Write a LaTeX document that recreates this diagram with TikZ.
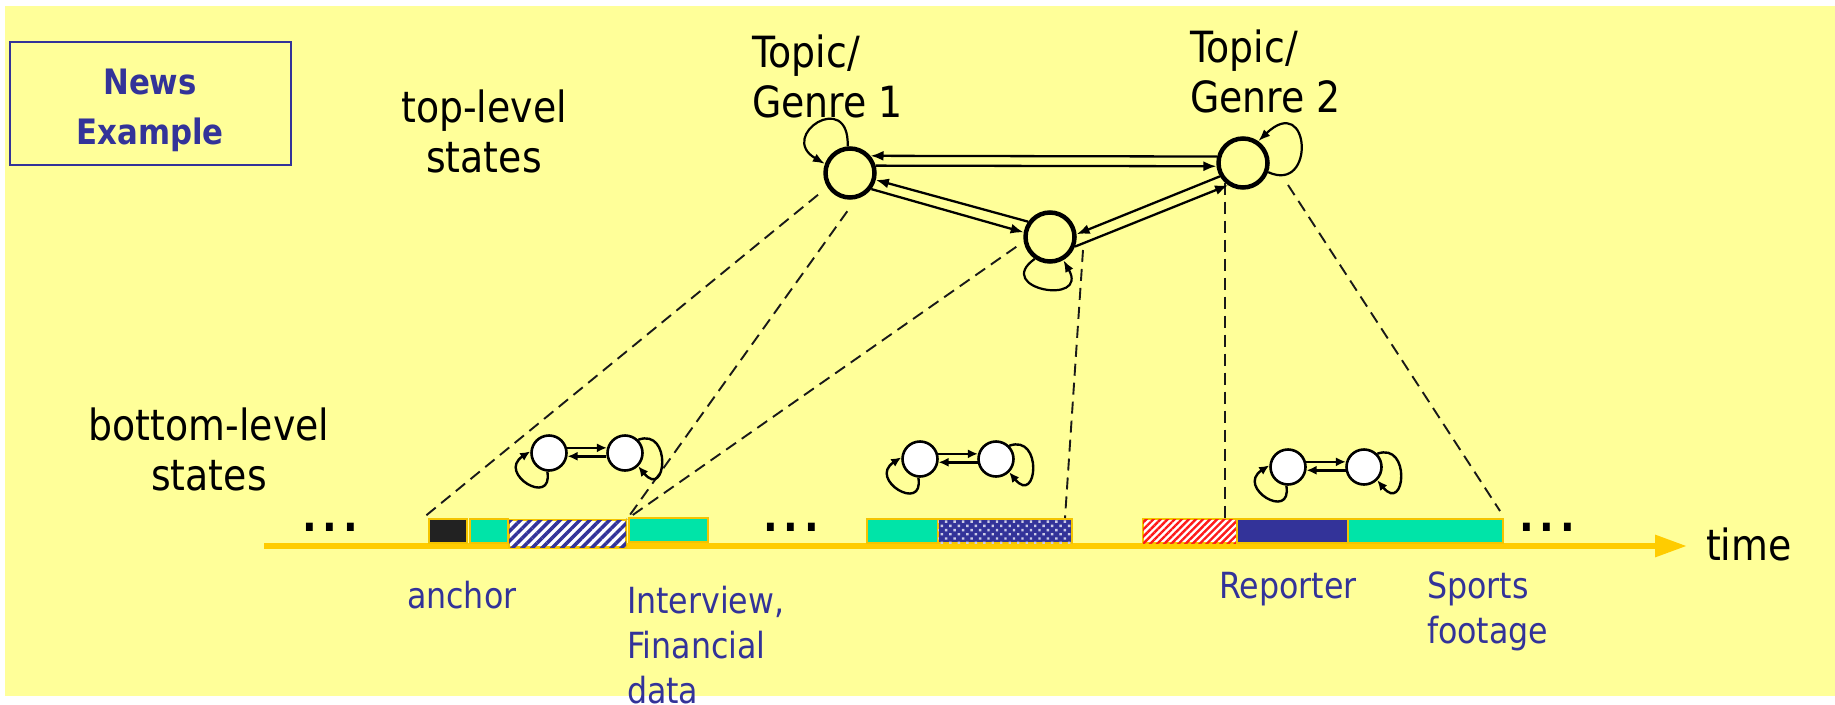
\documentclass[tikz,border=0pt]{standalone}
\usepackage{fontspec}
\setmainfont[FakeStretch=0.88]{DejaVu Sans}
\usetikzlibrary{arrows.meta,patterns.meta,calc}

\definecolor{bgyellow}{HTML}{FFFF99}
\definecolor{navy}{HTML}{333399}
\definecolor{gold}{HTML}{FFCC00}
\definecolor{segedge}{HTML}{F4C400}
\definecolor{segteal}{RGB}{0,228,168}
\definecolor{segblack}{HTML}{222222}
\definecolor{segred}{HTML}{FF1A1A}

% stacked lines whose baseline is that of the first line
\newcommand{\centerstack}[1]{\vtop{\halign{\hfil##\hfil\cr#1\crcr}}}
\newcommand{\leftstack}[1]{\vtop{\halign{##\hfil\cr#1\crcr}}}
% three closely set dots
\newcommand{\threedots}{.\kern6pt.\kern6pt.}

\tikzset{
  txt/.style={inner sep=0pt, outer sep=0pt},
  bluetxt/.style={txt, text=navy, font=\fontsize{36}{45}\selectfont},
  blacktxt/.style={txt, text=black, font=\fontsize{43}{50}\selectfont},
  dotstxt/.style={txt, text=black, font=\fontsize{44}{45}\selectfont\bfseries},
  bigstate/.style={circle, draw=black, line width=4.5pt, minimum size=49pt, inner sep=0pt},
  smallstate/.style={circle, draw=black, fill=white, line width=2.6pt, minimum size=35pt, inner sep=0pt},
  edgearrow/.style={line width=2.3pt, -{Latex[length=13pt,width=10pt]}},
  selfloop/.style={line width=2.2pt, -{Latex[length=12pt,width=9pt]}},
  pairedge/.style={line width=2.6pt, -{Latex[length=10pt,width=9pt]}},
  pairloop/.style={line width=2.4pt, -{Latex[length=10pt,width=9pt]}},
  dashline/.style={line width=1.9pt, draw=black!90, dash pattern=on 12pt off 7pt},
  seg/.style={draw=segedge, line width=2pt, inner sep=0pt, anchor=north west, minimum height=24pt},
  hmmpair/.pic={
    \node[smallstate] (-a) at (0,0) {};
    \node[smallstate] (-b) at (76,0) {};
    \draw[pairedge] (-a.16) -- (-b.164);
    \draw[pairedge] (-b.190) -- (-a.-10);
    \draw[pairloop] (-a.-95) .. controls +(6,36) and +(-34,22) .. (-a.175);
    \draw[pairloop] (-b.45) .. controls +(34,-12) and +(28,34) .. (-b.-45);
  }
}

\begin{document}
\begin{tikzpicture}[x=1pt,y=-1pt]
\useasboundingbox (0,0) rectangle (1835,704);
\fill[white] (0,0) rectangle (1835,704);
\fill[bgyellow] (5,6) rectangle (1835,696);

% title box
\node[draw=navy, line width=2pt, minimum width=281pt, minimum height=123pt,
      inner sep=0pt, anchor=north west] (newsbox) at (9,41) {};
\node[txt, anchor=base, text=navy, font=\fontsize{35}{50}\selectfont\bfseries]
      (newslabel) at (150,94) {\centerstack{News\cr Example}};

% time axis
\coordinate (tstart) at (264,546);
\coordinate (tend) at (1687,546);
\draw[line width=6pt, gold, -{Triangle[length=32pt,width=21pt]}] (tstart) -- (tend);

% video segments along the time axis
\node[seg, fill=segblack, minimum width=38pt] (s1) at (428,518) {};
\node[seg, fill=segteal, minimum width=38pt] (s2) at (469,518) {};
\node[seg, fill=white, minimum width=117pt, minimum height=27pt,
      postaction={pattern={Lines[angle=45,distance=7pt,line width=3.5pt]}, pattern color=navy}]
      (s3) at (508,519) {};
\node[seg, fill=segteal, minimum width=79pt] (s4) at (628,517) {};
\node[seg, fill=segteal, minimum width=71pt] (s5) at (866,518) {};
\node[seg, fill=navy, minimum width=134pt,
      postaction={pattern={Dots[radius=1.7pt,distance=6pt,angle=45]}, pattern color=white!75!navy}]
      (s6) at (937,518) {};
\node[seg, fill=white, minimum width=94pt,
      postaction={pattern={Lines[angle=45,distance=5pt,line width=2.4pt]}, pattern color=segred}]
      (s7) at (1142,518) {};
\node[seg, fill=navy, minimum width=111pt] (s8) at (1236,518) {};
\node[seg, fill=segteal, minimum width=155pt] (s9) at (1347,518) {};

% top-level states
\node[bigstate] (g1) at (850,173) {};
\node[bigstate] (g2) at (1243,163) {};
\node[bigstate] (gm) at (1050,237) {};

% projections of top-level states onto the segments
\draw[dashline, shorten <=12pt] (g1.212) -- ([xshift=-5pt]s1.north west);
\draw[dashline, shorten <=15pt] (g1.-77) -- (s3.north east);
\draw[dashline, shorten <=9pt] (gm.190) -- (s3.north east);
\draw[dashline] ([shift={(33,13)}]gm.center) -- ([xshift=-8pt]s6.north east);
\draw[dashline] (g2.-133) -- (g2.-133 |- s7.north);
\draw[dashline] ([shift={(45,22)}]g2.center) -- ([shift={(-4,-7)}]s9.north east);

% transitions between top-level states
\draw[edgearrow] (g2.166) -- (g1.40);
\draw[edgearrow] (g1.16) -- (g2.187);
\draw[edgearrow] (gm.145) -- (g1.-15);
\draw[edgearrow] (g1.-37) -- (gm.170);
\draw[edgearrow] (g2.210) -- (gm.6);
\draw[edgearrow] (gm.-21) -- (g2.236);
\draw[selfloop] (g1.95) .. controls +(2,-58) and +(-48,-28) .. (g1.160);
\draw[selfloop] (g2.-20) .. controls +(48,22) and +(52,-50) .. (g2.55);
\draw[selfloop] (gm.235) .. controls +(-42,30) and +(26,46) .. (gm.-60);

% bottom-level state pairs
\pic (p1) at (549,453) {hmmpair};
\pic (p2) at (920,459) {hmmpair};
\pic (p3) at (1288,467) {hmmpair};

% labels
\node[blacktxt, anchor=base] (toplevel) at (484,122) {\centerstack{top-level\cr states}};
\node[blacktxt, anchor=base] (bottomlevel) at (209,440) {\centerstack{bottom-level\cr states}};
\node[blacktxt, anchor=base west] (topic1) at (752,67) {\leftstack{Topic/\cr Genre 1}};
\node[blacktxt, anchor=base west] (topic2) at (1190,62) {\leftstack{Topic/\cr Genre 2}};
\node[blacktxt, anchor=base west] (timelabel) at (1706,560) {time};
\node[dotstxt, anchor=base west] (dots1) at (302,531) {\threedots};
\node[dotstxt, anchor=base west] (dots2) at (763,531) {\threedots};
\node[dotstxt, anchor=base west] (dots3) at (1519,531) {\threedots};

\node[bluetxt, anchor=base west] (lanchor) at (407,608) {anchor};
\node[bluetxt, anchor=base west] (linterview) at (627,613) {\leftstack{Interview,\cr Financial\cr data}};
\node[bluetxt, anchor=base west] (lreporter) at (1219,598) {Reporter};
\node[bluetxt, anchor=base west] (lsports) at (1427,598) {\leftstack{Sports\cr footage}};
\end{tikzpicture}
\end{document}
